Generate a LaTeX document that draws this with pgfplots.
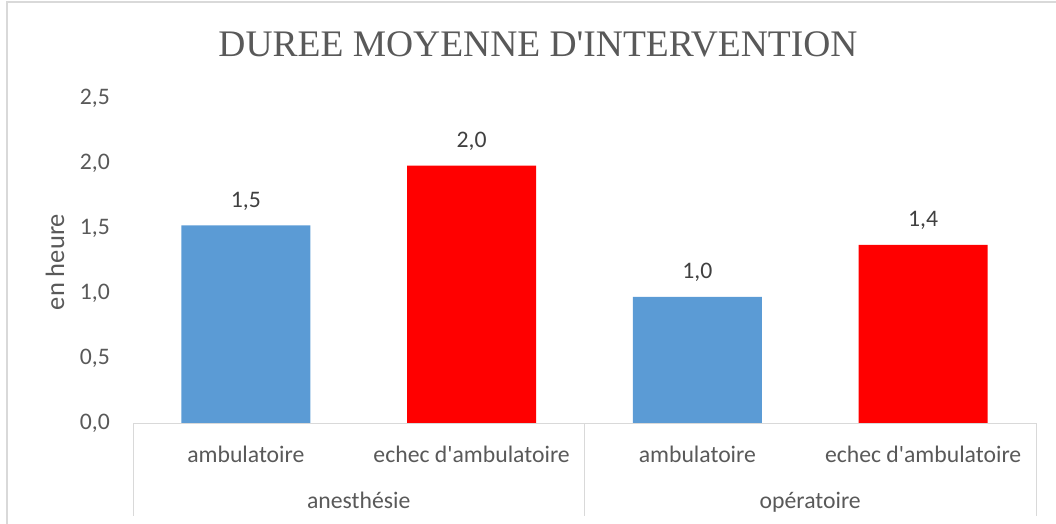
\documentclass[border=0pt]{standalone}
\usepackage{pgfplots}
\pgfplotsset{compat=1.18}
\usepackage{fontspec}
\setmainfont{Carlito}
\newfontfamily\titlefont{Liberation Serif}
\definecolor{barblue}{HTML}{5B9BD5}
\definecolor{barred}{HTML}{FF0000}
\definecolor{txtgray}{HTML}{595959}
\definecolor{lblgray}{HTML}{404040}
\definecolor{linegray}{HTML}{D9D9D9}
\newcommand{\lblfont}{\fontsize{23.7}{28}\selectfont}
\begin{document}
\begin{tikzpicture}
\path[use as bounding box] (0pt,0pt) rectangle (1056pt,523pt);
\draw[linegray, line width=1.5pt] (7pt,-20pt) -- (7pt,521pt) -- (1080pt,521pt);
\node[font=\titlefont\fontsize{37.5}{40}\selectfont, text=txtgray] at (538pt,478.5pt) {DUREE MOYENNE D\textquotesingle INTERVENTION};
\node[rotate=90, font=\fontsize{26.5}{30}\selectfont, text=txtgray] at (55pt,261pt) {en heure};
\begin{axis}[
  at={(133pt,100pt)}, anchor=south west,
  scale only axis, width=903pt, height=325pt,
  xmin=-0.5, xmax=3.5, ymin=0, ymax=2.5,
  clip=false,
  axis line style={draw=none},
  ybar, bar width=129pt,
  major tick length=0pt,
  xtick={0,1,2,3},
  xticklabels={ambulatoire, {echec d\textquotesingle ambulatoire}, ambulatoire, {echec d\textquotesingle ambulatoire}},
  ytick={0,0.5,1,1.5,2,2.5},
  /pgf/number format/assume math mode=true,
  ticklabel style={font=\lblfont, text=txtgray},
  xticklabel style={anchor=base, inner sep=0pt, yshift=-39pt},
  yticklabel style={anchor=east, inner sep=0pt, xshift=-23pt,
    /pgf/number format/fixed, /pgf/number format/fixed zerofill,
    /pgf/number format/precision=1, /pgf/number format/use comma},
  nodes near coords={\pgfmathprintnumber[fixed,fixed zerofill,precision=1,use comma,assume math mode=true]{\pgfplotspointmeta}},
  every node near coord/.append style={anchor=base, inner sep=0pt, yshift=18pt, font=\lblfont, text=lblgray},
]
\addplot[fill=barblue, draw=none, bar shift=0pt] coordinates {(0,1.52) (2,0.97)};
\addplot[fill=barred, draw=none, bar shift=0pt] coordinates {(1,1.98) (3,1.37)};
\draw[linegray, line width=1pt] (axis cs:-0.5,0) -- (axis cs:3.5,0);
\draw[linegray, line width=1pt] (axis cs:-0.5,0) -- ++(0pt,-93pt);
\draw[linegray, line width=1pt] (axis cs:1.5,0) -- ++(0pt,-93pt);
\draw[linegray, line width=1pt] (axis cs:3.5,0) -- ++(0pt,-93pt);
\node[anchor=base, inner sep=0pt, yshift=-85pt, font=\lblfont, text=txtgray] at (axis cs:0.5,0) {anesthésie};
\node[anchor=base, inner sep=0pt, yshift=-85pt, font=\lblfont, text=txtgray] at (axis cs:2.5,0) {opératoire};
\end{axis}
\end{tikzpicture}
\end{document}
